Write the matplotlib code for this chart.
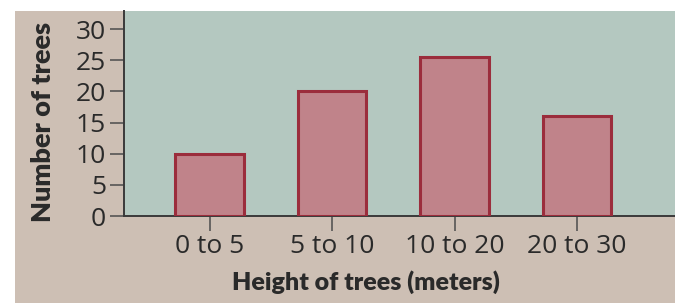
import matplotlib
matplotlib.use('Agg')
import matplotlib.pyplot as plt
from matplotlib.patches import Rectangle

# data
categories = ['0 to 5', '5 to 10', '10 to 20', '20 to 30']
counts = [10, 20, 25.5, 16]
y_ticks = [0, 5, 10, 15, 20, 25, 30]

W, H = 675, 303
fig = plt.figure(figsize=(W / 100, H / 100), dpi=100)
fig.patch.set_facecolor('white')
plt.rcParams['font.family'] = ['Lato', 'DejaVu Sans']

# tan backdrop
fig.patches.append(Rectangle((15 / W, 0), 1 - 15 / W, 1 - 11 / H,
                             transform=fig.transFigure, facecolor='#CDBFB4',
                             edgecolor='none', zorder=-1))

ax = fig.add_axes([124 / W, 1 - 216 / H, 1 - 124 / W, (216 - 11) / H])
ax.set_facecolor('#B4C8C0')

x = range(len(categories))
ax.bar(x, counts, width=0.56, color='#C0838A', edgecolor='#9B2D3C', linewidth=2.2, zorder=3)

ax.set_xlim(-0.70, 3.80)
ax.set_ylim(0, 32.9)
ax.set_xticks(list(x))
ax.set_xticklabels(categories, family='Open Sans')
ax.set_yticks(y_ticks)
ax.set_yticklabels([str(v) for v in y_ticks], family='Open Sans')

for s in ['top', 'right']:
    ax.spines[s].set_visible(False)
for s in ['left', 'bottom']:
    ax.spines[s].set_color('#3a3a3a')
    ax.spines[s].set_linewidth(1.4)

ax.tick_params(axis='x', length=11, width=1.2, color='#555555', pad=2,
               labelsize=19, labelcolor='#2a2a2a')
ax.tick_params(axis='y', length=10, width=1.2, color='#555555', pad=3,
               labelsize=19, labelcolor='#2a2a2a')

fig.text(366 / W, 1 - 282 / H, 'Height of trees (meters)', ha='center', va='center',
         fontsize=18, fontweight='heavy', color='#2a2a2a')
fig.text(43 / W, 1 - 122 / H, 'Number of trees', ha='center', va='center', rotation=90,
         fontsize=19.5, fontweight='heavy', color='#2a2a2a')

fig.savefig('out.png', dpi=100, facecolor=fig.get_facecolor())
